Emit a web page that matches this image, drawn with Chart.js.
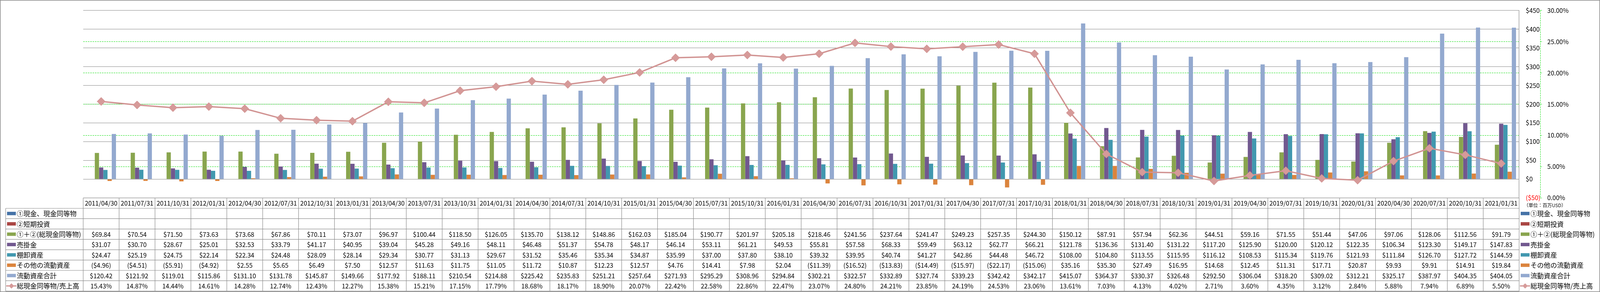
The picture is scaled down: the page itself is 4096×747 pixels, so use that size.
<!DOCTYPE html>
<html lang="ja">
<head>
<meta charset="utf-8">
<title>総現金同等物と流動資産</title>
<script src="https://cdn.jsdelivr.net/npm/chart.js@4/dist/chart.umd.min.js"></script>
<style>
  html, body { margin: 0; padding: 0; background: #fff; }
  canvas { display: block; }
</style>
</head>
<body>
<canvas id="assetChart" width="4096" height="747"></canvas>
<script>
// quarter end dates (table header / x categories)
var quarters = [
    '2011/04/30', '2011/07/31', '2011/10/31', '2012/01/31', '2012/04/30', '2012/07/31', '2012/10/31', '2013/01/31',
    '2013/04/30', '2013/07/31', '2013/10/31', '2014/01/31', '2014/04/30', '2014/07/31', '2014/10/31', '2015/01/31',
    '2015/04/30', '2015/07/31', '2015/10/31', '2016/01/31', '2016/04/30', '2016/07/31', '2016/10/31', '2017/01/31',
    '2017/04/30', '2017/07/31', '2017/10/31', '2018/01/31', '2018/04/30', '2018/07/31', '2018/10/31', '2019/01/31',
    '2019/04/30', '2019/07/31', '2019/10/31', '2020/01/31', '2020/04/30', '2020/07/31', '2020/10/31', '2021/01/31'
];

// 単位: 百万USD
var cashEq = [];      // ①現金、現金同等物 (no values in source)
var shortInv = [];    // ②短期投資 (no values in source)
var totalCash = [
    69.84, 70.54, 71.50, 73.63, 73.68, 67.86, 70.11, 73.07, 96.97, 100.44,
    118.50, 126.05, 135.70, 138.12, 148.86, 162.03, 185.04, 190.77, 201.97, 205.18,
    218.46, 241.56, 237.64, 241.47, 249.23, 257.35, 244.30, 150.12, 87.91, 57.94,
    62.36, 44.51, 59.16, 71.55, 51.44, 47.06, 97.06, 128.06, 112.56, 91.79
];
var receivables = [
    31.07, 30.70, 28.67, 25.01, 32.53, 33.79, 41.17, 40.95, 39.04, 45.28,
    49.16, 48.11, 46.48, 51.37, 54.78, 48.17, 46.14, 53.11, 61.21, 49.53,
    55.81, 57.58, 68.33, 59.49, 63.12, 62.77, 66.21, 121.78, 136.36, 131.40,
    131.22, 117.20, 125.90, 120.00, 120.12, 122.35, 106.34, 123.30, 149.17, 147.83
];
var inventory = [
    24.47, 25.19, 24.75, 22.14, 22.34, 24.48, 28.09, 28.14, 29.34, 30.77,
    31.13, 29.67, 31.52, 35.46, 35.34, 34.87, 35.99, 37.00, 37.80, 38.10,
    39.32, 39.95, 40.74, 41.27, 42.86, 44.48, 46.72, 108.00, 104.80, 113.55,
    115.95, 116.12, 108.53, 115.34, 119.76, 121.93, 111.84, 126.70, 127.72, 144.59
];
var otherAssets = [
    -4.96, -4.51, -5.91, -4.92, 2.55, 5.65, 6.49, 7.50, 12.57, 11.63,
    11.75, 11.05, 11.72, 10.87, 12.23, 12.57, 4.76, 14.41, 7.98, 2.04,
    -11.39, -16.52, -13.83, -14.49, -15.97, -22.17, -15.06, 35.16, 35.30, 27.49,
    16.95, 14.68, 12.45, 11.31, 17.71, 20.87, 9.93, 9.91, 14.91, 19.84
];
var currentAssets = [
    120.42, 121.92, 119.01, 115.86, 131.10, 131.78, 145.87, 149.66, 177.92, 188.11,
    210.54, 214.88, 225.42, 235.83, 251.21, 257.64, 271.93, 295.29, 308.96, 294.84,
    302.21, 322.57, 332.89, 327.74, 339.23, 342.42, 342.17, 415.07, 364.37, 330.37,
    326.48, 292.50, 306.04, 318.20, 309.02, 312.21, 325.17, 387.97, 404.35, 404.05
];
// 総現金同等物/売上高 (%)
var cashToSales = [
    15.43, 14.87, 14.44, 14.61, 14.28, 12.74, 12.43, 12.27, 15.38, 15.21,
    17.15, 17.79, 18.68, 18.17, 18.90, 20.07, 22.42, 22.58, 22.86, 22.47,
    23.07, 24.80, 24.21, 23.85, 24.19, 24.53, 23.06, 13.61, 7.03, 4.13,
    4.02, 2.71, 3.60, 4.35, 3.12, 2.84, 5.88, 7.94, 6.89, 5.50
];

var seriesNames = ['①現金、現金同等物', '②短期投資', '①＋②(総現金同等物)', '売掛金', '棚卸資産', 'その他の流動資産', '流動資産合計', '総現金同等物/売上高'];
var seriesColors = ['#4572A7', '#AA4643', '#89A54E', '#71588F', '#4198AF', '#DB843D', '#93A9CF', '#D19392'];

var FONT = '"Noto Sans CJK JP", "Noto Sans", sans-serif';
var GREEN = 'rgb(20,222,20)';
var GRID = '#878787';

document.addEventListener("DOMContentLoaded", function () {

    var canvas = document.getElementById("assetChart");
    var ctx = canvas.getContext("2d");

    function money(v) {
        if (v === null || v === undefined) return '';
        return v < 0 ? '($' + (-v).toFixed(2) + ')' : '$' + v.toFixed(2);
    }

    var barSeries = [cashEq, shortInv, totalCash, receivables, inventory, otherAssets, currentAssets];
    var datasets = barSeries.map(function (values, i) {
        return {
            type: 'bar',
            label: seriesNames[i],
            data: values,
            backgroundColor: seriesColors[i],
            borderWidth: 0,
            yAxisID: 'y',
            order: 1
        };
    });
    datasets.push({
        type: 'line',
        label: seriesNames[7],
        data: cashToSales,
        yAxisID: 'y1',
        order: 0,
        borderColor: seriesColors[7],
        borderWidth: 3.5,
        tension: 0,
        pointStyle: 'rectRot',
        pointRadius: 10.5,
        pointBackgroundColor: '#D69A99',
        pointBorderColor: seriesColors[7],
        pointBorderWidth: 1
    });

    var tableRows = [
        { values: cashEq, fmt: money },
        { values: shortInv, fmt: money },
        { values: totalCash, fmt: money },
        { values: receivables, fmt: money },
        { values: inventory, fmt: money },
        { values: otherAssets, fmt: money },
        { values: currentAssets, fmt: money },
        { values: cashToSales, fmt: function (v) { return v.toFixed(2) + '%'; }, line: true }
    ];

    function drawKey(c, row, i, x, cy) {
        if (row.line) {
            c.strokeStyle = seriesColors[i];
            c.lineWidth = 3;
            c.beginPath();
            c.moveTo(x - 2, cy);
            c.lineTo(x + 24, cy);
            c.stroke();
            var r = 6.8, mx = x + 11.3;
            c.fillStyle = '#D69A99';
            c.beginPath();
            c.moveTo(mx - r, cy);
            c.lineTo(mx, cy - r);
            c.lineTo(mx + r, cy);
            c.lineTo(mx, cy + r);
            c.closePath();
            c.fill();
        } else {
            c.fillStyle = seriesColors[i];
            c.fillRect(x, cy - 4.4, 22.6, 8.7);
        }
    }

    // data table under the plot, legend on the right, frame
    var tablePlugin = {
        id: 'dataTable',
        afterDraw: function (chart) {
            var c = chart.ctx;
            var area = chart.chartArea;
            var n = quarters.length;
            var colW = (area.right - area.left) / n;
            var headTop = area.bottom;
            var headH = 26.7;
            var rowH = 26.46;
            var rowsTop = headTop + headH;
            var labelLeft = 14.5;
            var bottom = rowsTop + rowH * tableRows.length;

            c.save();
            c.strokeStyle = '#8C8C8C';
            c.lineWidth = 1.2;
            c.beginPath();
            c.moveTo(area.left, headTop);
            c.lineTo(area.right, headTop);
            for (var k = 0; k <= tableRows.length; k++) {
                c.moveTo(labelLeft, rowsTop + k * rowH);
                c.lineTo(area.right, rowsTop + k * rowH);
            }
            c.moveTo(labelLeft, rowsTop);
            c.lineTo(labelLeft, bottom);
            for (var j = 0; j <= n; j++) {
                c.moveTo(area.left + j * colW, headTop);
                c.lineTo(area.left + j * colW, bottom);
            }
            c.stroke();

            c.fillStyle = '#000';
            c.textAlign = 'center';
            c.textBaseline = 'middle';
            c.font = '16px ' + FONT;
            var xs = chart.scales.x;
            for (var q = 0; q < n; q++) {
                c.fillText(quarters[q], xs.getPixelForValue(q), headTop + headH / 2 + 0.5);
            }

            tableRows.forEach(function (row, r) {
                var cy = rowsTop + rowH * (r + 0.5);
                c.textAlign = 'center';
                c.font = '16px ' + FONT;
                c.fillStyle = '#000';
                for (var q2 = 0; q2 < n; q2++) {
                    var v = row.values[q2];
                    if (v === undefined || v === null) continue;
                    c.fillText(row.fmt(v), xs.getPixelForValue(q2), cy + 0.5);
                }
                // left labels
                drawKey(c, row, r, 18, cy);
                c.fillStyle = '#000';
                c.textAlign = 'left';
                c.font = '17px ' + FONT;
                c.fillText(seriesNames[r], 43, cy + 0.5);
                // right legend
                drawKey(c, row, r, area.right + 4, cy);
                c.fillStyle = '#000';
                c.fillText(seriesNames[r], area.right + 29, cy + 0.5);
            });

            // unit note
            c.font = '12px ' + FONT;
            c.fillText('（単位：百万USD）', area.right + 12, headTop + 19.5);

            // green dashed % axis line
            var y1 = chart.scales.y1;
            c.strokeStyle = GREEN;
            c.lineWidth = 1;
            c.setLineDash([4, 2]);
            c.beginPath();
            c.moveTo(y1.left + 0.5, y1.top);
            c.lineTo(y1.left + 0.5, y1.bottom);
            c.stroke();
            c.setLineDash([]);

            // outer frame
            c.strokeStyle = '#898989';
            c.lineWidth = 1.5;
            c.strokeRect(0.75, 0.75, chart.width - 1.5, chart.height - 1.5);
            c.restore();
        }
    };

    Chart.defaults.font.family = FONT;

    new Chart(ctx, {
        type: 'bar',
        data: {
            labels: quarters,
            datasets: datasets
        },
        options: {
            responsive: false,
            devicePixelRatio: 1,
            animation: false,
            layout: {
                padding: { left: 213, top: 11, right: 0, bottom: 240.7 }
            },
            datasets: {
                bar: { barPercentage: 1.0, categoryPercentage: 0.827 }
            },
            plugins: {
                legend: { display: false },
                tooltip: { enabled: false }
            },
            scales: {
                x: {
                    display: false,
                    offset: true
                },
                y: {
                    position: 'right',
                    min: -50,
                    max: 450,
                    afterFit: function (scale) { scale.width = 54; },
                    ticks: {
                        stepSize: 50,
                        padding: 17,
                        font: { size: 16 },
                        color: function (c) { return c.tick && c.tick.value < 0 ? '#FF0000' : '#000'; },
                        callback: function (v) { return v < 0 ? '($' + (-v) + ')' : '$' + v; }
                    },
                    grid: { color: GRID, lineWidth: 1.1, drawTicks: false },
                    border: { display: true, color: GRID, width: 1.2 }
                },
                y1: {
                    position: 'right',
                    min: 0,
                    max: 30,
                    afterFit: function (scale) { scale.width = 153; },
                    ticks: {
                        stepSize: 5,
                        padding: 11.6,
                        font: { size: 16 },
                        color: '#000',
                        callback: function (v) { return v.toFixed(2) + '%'; }
                    },
                    grid: {
                        color: function (c) {
                            return c.tick && (c.tick.value === 0 || c.tick.value === 30) ? 'rgba(0,0,0,0)' : GREEN;
                        },
                        lineWidth: 1,
                        drawTicks: true,
                        tickLength: 6.4,
                        tickColor: GREEN,
                        tickWidth: 1,
                        tickBorderDash: [4, 2]
                    },
                    border: { display: false, dash: [4, 2] }
                }
            }
        },
        plugins: [tablePlugin]
    });
});
</script>
</body>
</html>
